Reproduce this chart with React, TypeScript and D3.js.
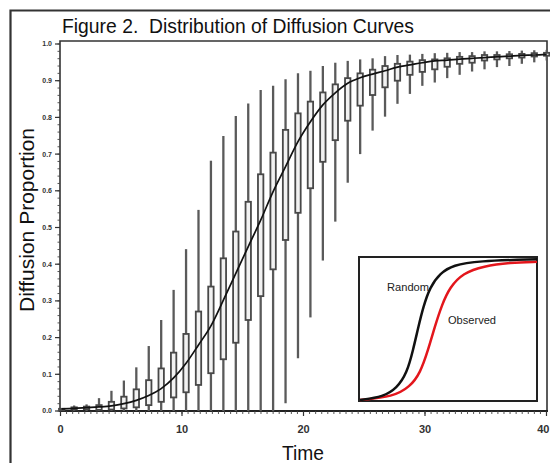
import React from 'react';
import * as d3 from 'd3';

const periods = [1, 2, 3, 4, 5, 6, 7, 8, 9, 10, 11, 12, 13, 14, 15, 16, 17, 18, 19, 20,
  21, 22, 23, 24, 25, 26, 27, 28, 29, 30, 31, 32, 33, 34, 35, 36, 37, 38, 39, 40];

const whiskerHigh = [0.008, 0.015, 0.018, 0.035, 0.055, 0.083, 0.119, 0.177, 0.248, 0.33,
  0.441, 0.548, 0.682, 0.749, 0.804, 0.838, 0.875, 0.886, 0.904, 0.92,
  0.927, 0.94, 0.949, 0.954, 0.958, 0.961, 0.967, 0.97, 0.971, 0.973,
  0.975, 0.976, 0.978, 0.978, 0.98, 0.98, 0.981, 0.982, 0.983, 0.984];

const q3 = [0.006, 0.01, 0.012, 0.016, 0.025, 0.039, 0.059, 0.084, 0.116, 0.159,
  0.21, 0.271, 0.339, 0.416, 0.489, 0.57, 0.645, 0.704, 0.766, 0.811,
  0.843, 0.868, 0.89, 0.907, 0.92, 0.93, 0.94, 0.946, 0.952, 0.956,
  0.958, 0.961, 0.965, 0.967, 0.97, 0.97, 0.972, 0.973, 0.975, 0.976];

const q1 = [0.002, 0.004, 0.005, 0.003, 0.004, 0.007, 0.01, 0.016, 0.025, 0.037,
  0.051, 0.071, 0.103, 0.141, 0.186, 0.248, 0.313, 0.386, 0.466, 0.54,
  0.607, 0.679, 0.738, 0.791, 0.832, 0.861, 0.882, 0.9, 0.916, 0.924,
  0.931, 0.938, 0.946, 0.949, 0.955, 0.958, 0.961, 0.963, 0.966, 0.968];

const whiskerLow = [0, 0, 0, 0, 0, 0, 0, 0, 0, 0,
  0, 0, 0, 0, 0, 0, 0, 0, 0.021, 0.144,
  0.255, 0.41, 0.516, 0.622, 0.7, 0.764, 0.802, 0.837, 0.864, 0.886,
  0.895, 0.907, 0.916, 0.925, 0.931, 0.937, 0.94, 0.946, 0.95, 0.955];

const meanCurve = [0.006, 0.007, 0.009, 0.011, 0.014, 0.02, 0.029, 0.042, 0.061, 0.09,
  0.13, 0.18, 0.232, 0.302, 0.375, 0.448, 0.52, 0.598, 0.666, 0.734,
  0.788, 0.834, 0.867, 0.893, 0.908, 0.918, 0.927, 0.937, 0.943, 0.949,
  0.954, 0.956, 0.959, 0.961, 0.963, 0.965, 0.967, 0.969, 0.97, 0.972];

const xTickValues = [0, 10, 20, 30, 40];
const yTickValues = [0, 0.1, 0.2, 0.3, 0.4, 0.5, 0.6, 0.7, 0.8, 0.9, 1.0];

const insetRandomT = [0, 5.3, 8.3, 10.6, 12, 13.2, 14.3, 15.8, 18.1, 21.1, 26.4, 40];
const insetRandomV = [0, 0.023, 0.083, 0.19, 0.355, 0.52, 0.66, 0.8, 0.9, 0.957, 0.986, 0.998];
const insetObservedT = [0, 7.5, 11.3, 13.6, 15.4, 16.9, 18.5, 20.3, 23.3, 27.9, 33.9, 40];
const insetObservedV = [0, 0.023, 0.094, 0.19, 0.355, 0.52, 0.674, 0.8, 0.9, 0.95, 0.974, 0.98];

const FONT = '"Liberation Sans", Arial, Helvetica, sans-serif';

export default function App() {
  const W = 550, H = 463;
  const x = d3.scaleLinear().domain([0, 40]).range([60.5, 546.5]);
  const xb = d3.scalePoint<string>().domain(periods.map(String)).range([61.7, 546.7]);
  const y = d3.scaleLinear().domain([0, 1]).range([411, 44]);

  const plot = { l: 60, r: 547, t: 41, b: 411 };

  const line = d3.line<number>()
    .x((_, i) => xb(String(periods[i])) as number)
    .y((d) => y(d))
    .curve(d3.curveMonotoneX);

  const ix = d3.scaleLinear().domain([0, 40]).range([360, 537]);
  const iy = d3.scaleLinear().domain([0, 1]).range([400, 259]);
  const insetLine = (ts: number[], vs: number[]) =>
    d3.line<number>().x((_, i) => ix(ts[i])).y((v) => iy(v)).curve(d3.curveBasis)(vs) as string;

  const xMinor = d3.range(0, 40.001, 0.5);
  const yMinor = d3.range(0, 1.0001, 0.02);

  return (
    <svg width={W} height={H} style={{ position: 'absolute', left: 0, top: 0, background: '#fff' }}
      fontFamily={FONT}>
      <rect x={0} y={0} width={W} height={H} fill="#fff" />
      {/* outer frame */}
      <path d={`M10.5,${H + 5} L10.5,10.5 L${W + 5},10.5`} fill="none" stroke="#333" strokeWidth={2.2} />

      {/* title */}
      <text x={62} y={33} fontSize={21} fill="#111" textLength={352} lengthAdjust="spacingAndGlyphs"
        style={{ whiteSpace: 'pre' }}>
        {'Figure 2.  Distribution of Diffusion Curves'}
      </text>

      {/* plot frame */}
      <path d={`M${plot.l},${plot.b} L${plot.l},${plot.t} L${plot.r},${plot.t} L${plot.r},${plot.b}`}
        fill="none" stroke="#333" strokeWidth={1.6} />
      <line x1={plot.l - 1} x2={plot.r + 1} y1={plot.b} y2={plot.b} stroke="#222" strokeWidth={2} />

      {/* y ticks */}
      {yMinor.map((v, i) => (
        <line key={'ym' + i} x1={plot.l} x2={plot.l - 2.5} y1={y(v)} y2={y(v)} stroke="#444" strokeWidth={0.9} />
      ))}
      {yTickValues.map((v) => (
        <g key={'yt' + v}>
          <line x1={plot.l} x2={plot.l - 5} y1={y(v)} y2={y(v)} stroke="#333" strokeWidth={1.2} />
          <text x={52} y={y(v)} dy="0.35em" fontSize={7} fontWeight="bold" textAnchor="end" fill="#333">
            {v.toFixed(1)}
          </text>
        </g>
      ))}

      {/* x ticks */}
      {xMinor.map((v, i) => (
        <line key={'xm' + i} x1={x(v)} x2={x(v)} y1={plot.b} y2={plot.b + 3} stroke="#444" strokeWidth={0.9} />
      ))}
      {xTickValues.map((v) => (
        <g key={'xt' + v}>
          <line x1={x(v)} x2={x(v)} y1={plot.b} y2={plot.b + 5} stroke="#333" strokeWidth={1.2} />
          <text x={v === 40 ? 549.5 : x(v)} y={433} fontSize={11} fontWeight="bold"
            textAnchor={v === 40 ? 'end' : 'middle'} fill="#333">{v}</text>
        </g>
      ))}

      {/* axis titles */}
      <text x={303} y={460} fontSize={21} textAnchor="middle" fill="#111" textLength={42}
        lengthAdjust="spacingAndGlyphs">Time</text>
      <text transform="translate(34,220) rotate(-90)" fontSize={21} textAnchor="middle" fill="#111">
        Diffusion Proportion
      </text>

      {/* boxplots */}
      {periods.map((p, i) => {
        const cx = xb(String(p)) as number;
        const top = y(q3[i]);
        const bot = y(q1[i]);
        return (
          <g key={'b' + p}>
            <line x1={cx} x2={cx} y1={y(whiskerHigh[i])} y2={y(whiskerLow[i])} stroke="#5a5a5a" strokeWidth={2.3} />
            <rect x={cx - 2.7} y={top} width={5.4} height={Math.max(bot - top, 1.5)}
              fill="#f2f2f2" stroke="#484848" strokeWidth={1.8} />
          </g>
        );
      })}

      {/* mean curve */}
      <path d={line(meanCurve) as string} fill="none" stroke="#111" strokeWidth={1.7} />

      {/* inset */}
      <rect x={359} y={257} width={178} height={144} fill="#fff" stroke="#222" strokeWidth={2} />
      <path d={insetLine(insetObservedT, insetObservedV)} fill="none" stroke="#e3161c" strokeWidth={2.5} />
      <path d={insetLine(insetRandomT, insetRandomV)} fill="none" stroke="#111" strokeWidth={2.5} />
      <text x={387} y={291} fontSize={11.5} fill="#222" textLength={42} lengthAdjust="spacingAndGlyphs">Random</text>
      <text x={448} y={324} fontSize={11.5} fill="#222" textLength={48} lengthAdjust="spacingAndGlyphs">Observed</text>
    </svg>
  );
}
